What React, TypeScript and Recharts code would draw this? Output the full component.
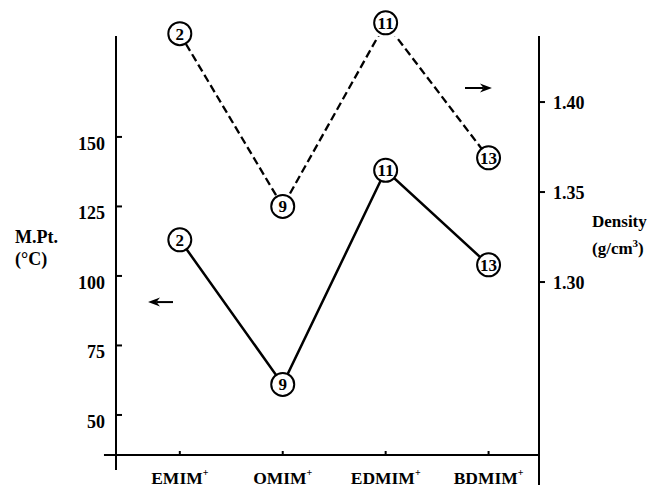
import React from "react";
import {
  LineChart,
  Line,
  XAxis,
  YAxis,
  ReferenceLine,
  LabelList,
} from "recharts";

const cations = ["EMIM", "OMIM", "EDMIM", "BDMIM"];
const compounds = [2, 9, 11, 13];
const meltingPoint = [113, 61, 138, 104];
const density = [1.438, 1.342, 1.444, 1.369];
const mpTicks = [50, 75, 100, 125, 150];
const densityTicks = [1.3, 1.35, 1.4];
const positions = [0, 1, 2, 3];

const X_DOMAIN = [-0.62, 3.49];
const MP_DOMAIN = [35.6, 186.3];
const DENSITY_DOMAIN = [1.2039, 1.4367];

const data = cations.map((c, i) => ({
  pos: positions[i],
  cation: c,
  compound: compounds[i],
  mp: meltingPoint[i],
  density: density[i],
}));

const FONT = "'Liberation Serif', 'Times New Roman', serif";

const MpTick = ({ x, y, payload }: any) => (
  <g>
    <line x1={x} y1={y} x2={x + 6} y2={y} stroke="#000" strokeWidth={2} />
    <text x={x - 11} y={y + 13} textAnchor="end" fontFamily={FONT} fontWeight="bold" fontSize={18} fill="#000">
      {payload.value}
    </text>
  </g>
);

const DensityTick = ({ x, y, payload }: any) => (
  <g>
    <line x1={x} y1={y} x2={x + 6} y2={y} stroke="#000" strokeWidth={2} />
    <text x={x + 14} y={y + 7} textAnchor="start" fontFamily={FONT} fontWeight="bold" fontSize={18} fill="#000">
      {Number(payload.value).toFixed(2)}
    </text>
  </g>
);

const CationTick = ({ x, y, payload }: any) => (
  <g>
    <line x1={x} y1={y} x2={x} y2={y - 4} stroke="#000" strokeWidth={2} />
    <text x={x} y={y + 29} textAnchor="middle" fontFamily={FONT} fontWeight="bold" fontSize={17.5} fill="#000">
      {cations[payload.value]}
      <tspan dy={-8} fontSize={10}>+</tspan>
    </text>
  </g>
);

const Marker = (props: any) => {
  const x = props.viewBox?.x ?? props.x;
  const y = props.viewBox?.y ?? props.y;
  if (x == null || y == null) return null;
  return (
    <g>
      <circle cx={x} cy={y} r={11.5} fill="#fff" stroke="#000" strokeWidth={2} />
      <text x={x} y={y + 6} textAnchor="middle" fontFamily={FONT} fontWeight="bold" fontSize={17} fill="#000">
        {props.value}
      </text>
    </g>
  );
};

const Arrow = (props: any) => {
  const { x1, y1, x2, y2 } = props;
  const dx = x2 - x1;
  const dy = y2 - y1;
  const len = Math.hypot(dx, dy) || 1;
  const ux = dx / len;
  const uy = dy / len;
  const hl = 12;
  const hw = 4.5;
  const bx = x1 + ux * hl;
  const by = y1 + uy * hl;
  const nx = x1 + ux * hl * 0.7;
  const ny = y1 + uy * hl * 0.7;
  return (
    <g>
      <line x1={nx} y1={ny} x2={x2} y2={y2} stroke="#000" strokeWidth={2} />
      <polygon
        points={`${x1},${y1} ${bx - uy * hw},${by + ux * hw} ${nx},${ny} ${bx + uy * hw},${by - ux * hw}`}
        fill="#000"
      />
    </g>
  );
};

const MpTitle = (props: any) => {
  const vb = props.viewBox || { x: 0, y: 36, width: 116, height: 419 };
  const cy = vb.y + vb.height / 2;
  return (
    <text fontFamily={FONT} fontWeight="bold" fontSize={18} fill="#000">
      <tspan x={vb.x + 15} y={cy - 3}>M.Pt.</tspan>
      <tspan x={vb.x + 15} y={cy + 19}>(°C)</tspan>
    </text>
  );
};

const DensityTitle = (props: any) => {
  const vb = props.viewBox || { x: 539, y: 36, width: 110, height: 419 };
  const cy = vb.y + vb.height / 2;
  return (
    <text fontFamily={FONT} fontWeight="bold" fontSize={17} fill="#000">
      <tspan x={vb.x + 53} y={cy - 19}>Density</tspan>
      <tspan x={vb.x + 53} y={cy + 8}>
        (g/cm
        <tspan dy={-7} fontSize={11}>3</tspan>
        <tspan dy={7}>)</tspan>
      </tspan>
    </text>
  );
};

const frame = { stroke: "#000", strokeWidth: 2 };

export default function App() {
  return (
    <div style={{ position: "absolute", left: 0, top: 0, background: "#fff" }}>
      <LineChart width={649} height={487} data={data} margin={{ top: 36, right: 0, bottom: 0, left: 0 }}>
        <XAxis
          dataKey="pos"
          type="number"
          domain={X_DOMAIN}
          allowDataOverflow
          ticks={positions}
          interval={0}
          height={32}
          tickSize={0}
          tickMargin={0}
          tickLine={false}
          axisLine={frame}
          tick={<CationTick />}
        />
        <YAxis
          yAxisId="left"
          orientation="left"
          domain={MP_DOMAIN}
          allowDataOverflow
          ticks={mpTicks}
          interval={0}
          width={116}
          tickSize={0}
          tickMargin={0}
          tickLine={false}
          axisLine={frame}
          tick={<MpTick />}
          label={{ content: <MpTitle /> }}
        />
        <YAxis
          yAxisId="right"
          orientation="right"
          domain={DENSITY_DOMAIN}
          allowDataOverflow
          ticks={densityTicks}
          interval={0}
          width={110}
          tickSize={0}
          tickMargin={0}
          tickLine={false}
          axisLine={frame}
          tick={<DensityTick />}
          label={{ content: <DensityTitle /> }}
        />
        {/* axis stubs running past the frame corners */}
        <ReferenceLine
          yAxisId="left"
          ifOverflow="visible"
          segment={[{ x: X_DOMAIN[0], y: MP_DOMAIN[0] }, { x: X_DOMAIN[0], y: 30.2 }]}
          {...frame}
        />
        <ReferenceLine
          yAxisId="left"
          ifOverflow="visible"
          segment={[{ x: X_DOMAIN[1], y: MP_DOMAIN[0] }, { x: X_DOMAIN[1], y: 24.8 }]}
          {...frame}
        />
        <ReferenceLine
          yAxisId="left"
          ifOverflow="visible"
          segment={[{ x: -0.737, y: MP_DOMAIN[0] }, { x: X_DOMAIN[0], y: MP_DOMAIN[0] }]}
          {...frame}
        />
        {/* arrows telling which axis each curve belongs to */}
        <ReferenceLine
          yAxisId="left"
          ifOverflow="visible"
          segment={[{ x: -0.309, y: 90.6 }, { x: -0.066, y: 90.6 }]}
          shape={Arrow}
        />
        <ReferenceLine
          yAxisId="right"
          ifOverflow="visible"
          segment={[{ x: 3.033, y: 1.4078 }, { x: 2.771, y: 1.4078 }]}
          shape={Arrow}
        />
        <Line
          yAxisId="right"
          dataKey="density"
          stroke="#000"
          strokeWidth={2.3}
          strokeDasharray="8 4"
          dot={false}
          activeDot={false}
          isAnimationActive={false}
        >
          <LabelList dataKey="compound" content={<Marker />} />
        </Line>
        <Line
          yAxisId="left"
          dataKey="mp"
          stroke="#000"
          strokeWidth={2.5}
          dot={false}
          activeDot={false}
          isAnimationActive={false}
        >
          <LabelList dataKey="compound" content={<Marker />} />
        </Line>
      </LineChart>
    </div>
  );
}
